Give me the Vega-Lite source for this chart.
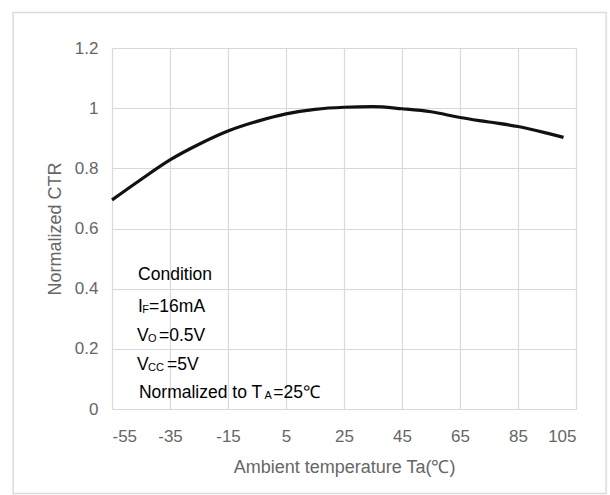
{
  "$schema": "https://vega.github.io/schema/vega-lite/v6.json",
  "autosize": "none",
  "width": 464,
  "height": 361,
  "padding": {"left": 112, "top": 48, "right": 34, "bottom": 86},
  "background": "white",
  "config": {
    "view": {"stroke": null},
    "font": "Liberation Sans"
  },
  "datasets": {
    "curve": [
      {"temp": -55, "ctr": 0.695},
      {"temp": -45, "ctr": 0.763},
      {"temp": -35, "ctr": 0.828},
      {"temp": -25, "ctr": 0.88},
      {"temp": -15, "ctr": 0.924},
      {"temp": -5, "ctr": 0.956},
      {"temp": 5, "ctr": 0.981},
      {"temp": 15, "ctr": 0.996},
      {"temp": 25, "ctr": 1.003},
      {"temp": 35, "ctr": 1.005},
      {"temp": 45, "ctr": 0.998},
      {"temp": 55, "ctr": 0.988},
      {"temp": 65, "ctr": 0.969},
      {"temp": 75, "ctr": 0.954},
      {"temp": 85, "ctr": 0.939},
      {"temp": 95, "ctr": 0.917},
      {"temp": 100.7, "ctr": 0.903}
    ],
    "notes": [
      {"t": "Condition", "x": -46.0, "y": 0.445, "role": "main"},
      {"t": "I", "x": -46.0, "y": 0.339, "role": "main"},
      {"t": "F", "x": -44.6, "y": 0.33, "role": "sub"},
      {"t": "=16mA", "x": -42.2, "y": 0.339, "role": "main"},
      {"t": "V", "x": -46.4, "y": 0.243, "role": "main"},
      {"t": "O", "x": -42.6, "y": 0.234, "role": "sub"},
      {"t": "=0.5V", "x": -38.8, "y": 0.243, "role": "main"},
      {"t": "V", "x": -46.4, "y": 0.146, "role": "main"},
      {"t": "CC", "x": -42.6, "y": 0.137, "role": "sub"},
      {"t": "=5V", "x": -36.0, "y": 0.146, "role": "main"},
      {"t": "Normalized to T", "x": -45.7, "y": 0.053, "role": "main"},
      {"t": "A", "x": -2.4, "y": 0.044, "role": "sub"},
      {"t": "=25℃", "x": 0.6, "y": 0.053, "role": "main"}
    ],
    "frame": [
      {"x1": -89.1, "x2": 115.4, "y1": 1.318, "y2": -0.281}
    ]
  },
  "layer": [
    {
      "data": {"name": "frame"},
      "mark": {"type": "rect", "fill": null, "stroke": "#dcdcdc", "strokeWidth": 1.5, "clip": false},
      "encoding": {
        "x": {"field": "x1", "type": "quantitative"},
        "x2": {"field": "x2"},
        "y": {"field": "y1", "type": "quantitative"},
        "y2": {"field": "y2"}
      }
    },
    {
      "data": {"name": "curve"},
      "mark": {"type": "line", "color": "#111111", "strokeWidth": 3.2, "interpolate": "monotone"},
      "encoding": {
        "x": {
          "field": "temp", "type": "quantitative",
          "scale": {"domain": [-55, 105], "nice": false, "zero": false},
          "axis": {
            "title": "Ambient temperature Ta(℃)",
            "values": [-55, -35, -15, 5, 25, 45, 65, 85, 105],
            "labelExpr": "datum.value + ''",
            "grid": true, "gridColor": "#d9d9d9", "gridWidth": 1.2,
            "domain": false, "ticks": false,
            "labelFontSize": 17, "labelColor": "#666666", "labelPadding": 19,
            "titleFontSize": 18, "titleFontWeight": "normal", "titleColor": "#666666", "titlePadding": 14
          }
        },
        "y": {
          "field": "ctr", "type": "quantitative",
          "scale": {"domain": [0, 1.2], "nice": false},
          "axis": {
            "title": "Normalized CTR",
            "values": [0, 0.2, 0.4, 0.6, 0.8, 1, 1.2],
            "format": "~g",
            "grid": true, "gridColor": "#d9d9d9", "gridWidth": 1.2,
            "domain": false, "ticks": false,
            "labelFontSize": 17, "labelColor": "#666666", "labelPadding": 14,
            "titleFontSize": 18, "titleFontWeight": "normal", "titleColor": "#666666", "titlePadding": 10
          }
        }
      }
    },
    {
      "data": {"name": "notes"},
      "transform": [{"filter": "datum.role === 'main'"}],
      "mark": {"type": "text", "align": "left", "baseline": "middle", "fontSize": 17.5, "color": "#000000"},
      "encoding": {
        "x": {"field": "x", "type": "quantitative"},
        "y": {"field": "y", "type": "quantitative"},
        "text": {"field": "t"}
      }
    },
    {
      "data": {"name": "notes"},
      "transform": [{"filter": "datum.role === 'sub'"}],
      "mark": {"type": "text", "align": "left", "baseline": "middle", "fontSize": 11, "color": "#000000"},
      "encoding": {
        "x": {"field": "x", "type": "quantitative"},
        "y": {"field": "y", "type": "quantitative"},
        "text": {"field": "t"}
      }
    }
  ]
}
